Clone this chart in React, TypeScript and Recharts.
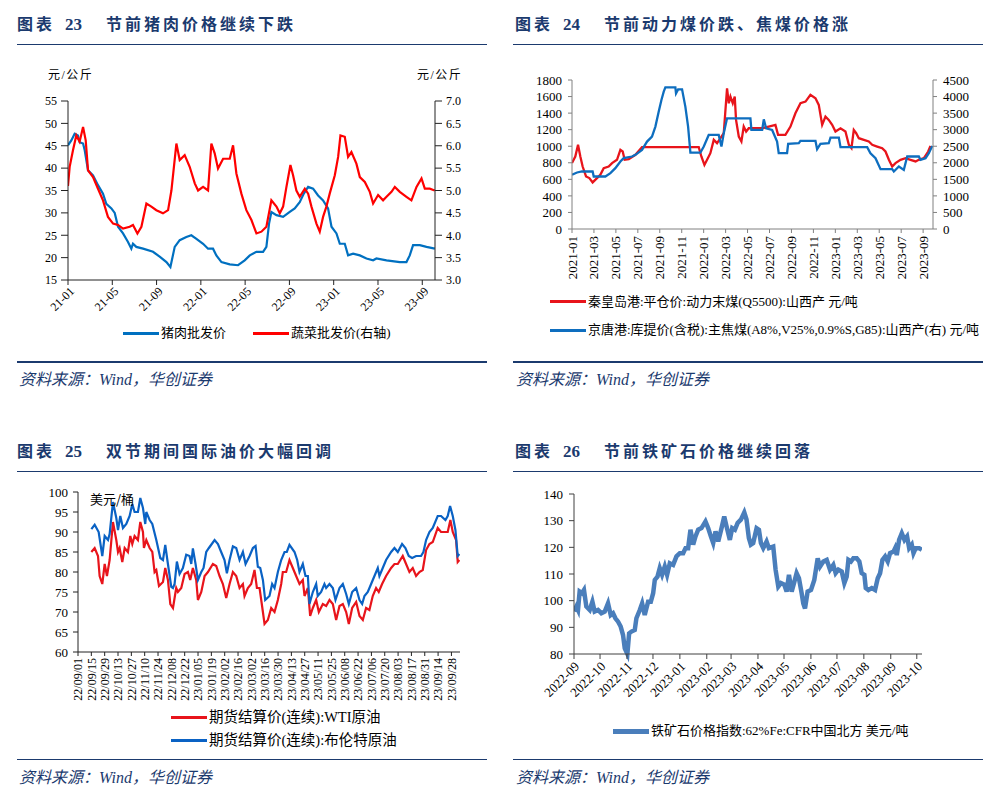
import React from 'react';
import { LineChart, Line, XAxis, YAxis } from 'recharts';

const SERIF = "'Liberation Serif', 'Times New Roman', 'Noto Sans CJK SC', serif";
const CJK = "'Liberation Serif', 'Noto Sans CJK SC', serif";
const SANS = "'Noto Sans CJK SC', 'Noto Sans', sans-serif";
const NAVY = '#1B3A6E';

// ---------- 图表23 ----------
const porkTickMonths = [0, 4, 8, 12, 16, 20, 24, 28, 32];
const porkTickLabels = ['21-01', '21-05', '21-09', '22-01', '22-05', '22-09', '23-01', '23-05', '23-09'];
const porkLeftTicks = [15, 20, 25, 30, 35, 40, 45, 50, 55];
const vegRightTicks = [3, 3.5, 4, 4.5, 5, 5.5, 6, 6.5, 7];
// [months since 2021-01, 元/公斤]
const porkPrice: [number, number][] = [
  [0, 45.1], [0.3, 46.2], [0.6, 47.7], [0.9, 47.3], [1.05, 45.8], [1.36, 45.5], [1.51, 44], [1.81, 39.5],
  [2.26, 38.4], [2.71, 36.2], [3.16, 34.3], [3.46, 32], [3.92, 31], [4.22, 30], [4.52, 26.9], [4.97, 25.4],
  [5.42, 23.5], [5.72, 22], [5.87, 23.1], [6.17, 22.4], [6.78, 22], [7.68, 21.3], [8.28, 20.2], [8.89, 19],
  [9.25, 17.9], [9.64, 22.4], [10.09, 23.9], [10.69, 24.6], [11.14, 25], [11.6, 24.2], [12.2, 23.1], [12.65, 22],
  [13.1, 22], [13.4, 20.5], [13.86, 19], [14.61, 18.5], [15.36, 18.3], [15.96, 19.4], [16.42, 20.5], [17.02, 21.3],
  [17.62, 21.3], [17.92, 22.4], [18.16, 27.6], [18.37, 30.2], [18.83, 29.5], [19.43, 29.1], [20.03, 30.2], [20.48, 31],
  [20.93, 32.4], [21.3, 34.3], [21.69, 35.8], [22.14, 35.4], [22.59, 33.9], [23.04, 32.8], [23.49, 31], [23.8, 26.9],
  [24.25, 25.4], [24.55, 23.1], [25, 23.1], [25.3, 20.5], [25.75, 20.9], [26.36, 20.5], [26.96, 19.8], [27.56, 19.4],
  [27.86, 19.8], [28.77, 19.4], [29.97, 19], [30.57, 19], [30.87, 20.5], [31.17, 22.8], [31.78, 22.8], [32.38, 22.4],
  [33.13, 22],
];
const vegPrice: [number, number][] = [
  [0, 5.1], [0.15, 5.53], [0.45, 5.9], [0.75, 6.23], [1.05, 6.09], [1.36, 6.42], [1.6, 6.12], [1.81, 5.45],
  [2.26, 5.3], [2.71, 5.04], [3.16, 4.78], [3.61, 4.41], [4.07, 4.26], [4.52, 4.23], [4.97, 4.15], [5.57, 4.19],
  [5.87, 4.23], [6.27, 4.04], [6.63, 4.19], [7.08, 4.71], [7.53, 4.64], [7.98, 4.56], [8.58, 4.49], [9.04, 4.56],
  [9.34, 5.0], [9.79, 6.05], [10.09, 5.68], [10.54, 5.79], [10.99, 5.53], [11.45, 5.16], [11.75, 5.0], [12.2, 5.08],
  [12.65, 5.0], [12.95, 6.05], [13.25, 5.83], [13.55, 5.49], [14.01, 5.71], [14.61, 5.71], [14.91, 6.01], [15.21, 5.38],
  [15.66, 4.93], [16.11, 4.56], [16.57, 4.34], [17.02, 4.04], [17.47, 4.08], [17.92, 4.19], [18.37, 4.78], [18.83, 4.64],
  [19.13, 4.49], [19.43, 4.64], [19.73, 5.08], [20.09, 5.57], [20.33, 5.34], [20.63, 5.0], [20.93, 4.86], [21.39, 5.04],
  [21.69, 4.93], [21.99, 4.64], [22.44, 4.26], [22.74, 4.08], [23.04, 4.41], [23.34, 4.64], [23.64, 4.93], [24.1, 5.34],
  [24.4, 5.75], [24.61, 6.23], [25.0, 6.2], [25.3, 5.75], [25.6, 5.86], [26.05, 5.6], [26.36, 5.3], [26.81, 5.19],
  [27.26, 4.97], [27.56, 4.71], [28.01, 4.9], [28.46, 4.78], [28.77, 4.86], [29.22, 4.97], [29.52, 5.08], [29.97, 4.97],
  [30.57, 4.86], [31.02, 4.78], [31.48, 5.08], [31.93, 5.27], [32.23, 5.04], [32.68, 5.04], [33.13, 5.0],
];

// ---------- 图表24 ----------
const coalTickMonths = [0, 2, 4, 6, 8, 10, 12, 14, 16, 18, 20, 22, 24, 26, 28, 30, 32];
const coalTickLabels = ['2021-01', '2021-03', '2021-05', '2021-07', '2021-09', '2021-11', '2022-01', '2022-03', '2022-05',
  '2022-07', '2022-09', '2022-11', '2023-01', '2023-03', '2023-05', '2023-07', '2023-09'];
const coalLeftTicks = [0, 200, 400, 600, 800, 1000, 1200, 1400, 1600, 1800];
const coalRightTicks = [0, 500, 1000, 1500, 2000, 2500, 3000, 3500, 4000, 4500];
// [months since 2021-01, 元/吨]
const thermalCoal: [number, number][] = [
  [0, 796], [0.3, 876], [0.55, 1017], [0.76, 876], [0.97, 755], [1.28, 635], [1.58, 615], [1.88, 563],
  [2.28, 615], [2.58, 655], [2.89, 735], [3.34, 755], [3.65, 796], [4.1, 836], [4.41, 956], [4.62, 936],
  [4.8, 836], [5.17, 844], [5.78, 896], [6.38, 988], [11.55, 988], [11.79, 876], [12.07, 775], [12.31, 836],
  [12.61, 916], [12.92, 1077], [13.22, 1037], [13.53, 1097], [13.83, 1157], [14.13, 1700], [14.29, 1519], [14.44, 1600],
  [14.65, 1519], [14.83, 1600], [14.95, 1318], [15.2, 1117], [15.44, 1057], [15.65, 1237], [15.87, 1177], [16.11, 1217],
  [17.33, 1217], [17.93, 1237], [18.54, 1258], [18.78, 1137], [19.45, 1137], [19.91, 1237], [20.36, 1398], [20.82, 1519],
  [21.28, 1539], [21.73, 1620], [22.19, 1579], [22.49, 1499], [22.8, 1258], [23.1, 1358], [23.4, 1318], [23.71, 1258],
  [24.01, 1177], [24.47, 1217], [24.92, 1177], [25.23, 1017], [25.47, 976], [25.68, 1197], [25.9, 1157], [26.14, 1097],
  [26.6, 1077], [27.05, 1057], [27.36, 1017], [27.81, 996], [28.27, 976], [28.57, 936], [28.88, 836], [29.18, 755],
  [29.48, 796], [29.94, 836], [30.4, 856], [30.85, 836], [31.31, 816], [31.61, 836], [32.07, 856], [32.46, 936],
  [32.67, 1005],
];
const cokingCoal: [number, number][] = [
  [0, 1637], [0.46, 1707], [0.91, 1737], [1.88, 1737], [1.98, 1586], [3.04, 1586], [3.5, 1687], [3.95, 1837],
  [4.41, 2038], [4.71, 2139], [5.47, 2189], [5.78, 2239], [6.38, 2390], [6.84, 2640], [7.29, 2791], [7.6, 3092],
  [7.9, 3544], [8.15, 3896], [8.36, 4147], [8.51, 4277], [9.42, 4277], [9.48, 4096], [9.67, 4217], [10.03, 4217],
  [10.33, 3695], [10.58, 3092], [10.79, 2309], [11.7, 2309], [12.01, 2490], [12.46, 2841], [13.37, 2841], [13.62, 2490],
  [13.83, 2891], [14.13, 3343], [16.26, 3343], [16.35, 2992], [17.33, 2992], [17.48, 3313], [17.69, 3042], [18.24, 2992],
  [18.69, 2640], [18.84, 2289], [19.6, 2289], [19.7, 2570], [20.67, 2590], [20.82, 2660], [22.19, 2660], [22.34, 2409],
  [22.64, 2570], [23.4, 2590], [23.56, 2760], [24.32, 2760], [24.47, 2470], [26.9, 2470], [27.2, 2289], [27.66, 2139],
  [28.12, 1807], [29.18, 1807], [29.33, 1737], [29.79, 1888], [30.24, 1787], [30.55, 2189], [31.61, 2189], [31.76, 2088],
  [32.22, 2139], [32.52, 2289], [32.83, 2510],
];

// ---------- 图表25 ----------
const oilTickDays = Array.from({ length: 29 }, (_, i) => i * 14);
const oilTickLabels = ['22/09/01', '22/09/15', '22/09/29', '22/10/13', '22/10/27', '22/11/10', '22/11/24', '22/12/08',
  '22/12/22', '23/01/05', '23/01/19', '23/02/02', '23/02/16', '23/03/02', '23/03/16', '23/03/30', '23/04/13', '23/04/27',
  '23/05/11', '23/05/25', '23/06/08', '23/06/22', '23/07/06', '23/07/20', '23/08/03', '23/08/17', '23/08/31', '23/09/14',
  '23/09/28'];
const oilTicks = [60, 65, 70, 75, 80, 85, 90, 95, 100];
// [days since 2022-09-01, 美元/桶]
const brent: [number, number][] = [
  [14, 90.7], [17.5, 91.8], [21.7, 90], [25.5, 84], [28, 89], [31.5, 88], [33.2, 89.5], [36.7, 97.5],
  [40.2, 93.5], [42, 90.5], [44.4, 94], [47.2, 91], [50.7, 92], [54.2, 94], [57, 97], [59.4, 95],
  [62.9, 95], [65.4, 98.5], [68.2, 96], [70.6, 92], [71.7, 95], [75.2, 93], [78, 92], [82.2, 88],
  [86.4, 83.5], [89.2, 83], [91.6, 86.8], [94.4, 82], [97.9, 76.3], [99.7, 76], [101.4, 77], [103.8, 82.6],
  [106.6, 79.5], [110.1, 81], [113.6, 84.3], [117.1, 84], [118.9, 82], [120.6, 85.9], [123.4, 82], [125.9, 78],
  [129.4, 80], [131.8, 81], [134.6, 85], [137.4, 86], [143.4, 88], [146.9, 87], [150.3, 85], [153.8, 83],
  [156.3, 79.7], [159.1, 83], [162.6, 86.4], [166.1, 86], [169.6, 83], [173.1, 85], [175.9, 82], [180.1, 84],
  [183.6, 86], [186.4, 86.5], [188.8, 81.3], [191.3, 81], [194.1, 78], [196.5, 73], [201, 74], [203.8, 77],
  [206.3, 76], [209.8, 80], [213.3, 83], [216.8, 85], [219.2, 85], [222, 86.8], [227.3, 85], [230.1, 83],
  [232.5, 80], [236, 82], [238.8, 79], [241.3, 79], [243, 72], [246.5, 75], [250, 77], [251.7, 74],
  [255.2, 75], [258.7, 77], [260.5, 76], [264, 77], [267.5, 76], [270.3, 73], [274.5, 76], [278, 77],
  [281.5, 74.5], [284.3, 72], [287.8, 75], [292, 76], [295.5, 73], [298.3, 72], [300.7, 74], [304.2, 75],
  [307.7, 77], [311.2, 79], [314.7, 81], [316.4, 79], [319.9, 81], [323.4, 83], [328.7, 85], [332.2, 86],
  [335.7, 85], [340.2, 87], [343.7, 86], [347.2, 84], [350.7, 83.5], [354.9, 84], [360.1, 84], [362.6, 85],
  [365.4, 88], [368.9, 90], [372.4, 91], [377.6, 94], [381.1, 94], [385.7, 93], [388.1, 94], [390.6, 96.5],
  [393.4, 94], [396.2, 90.5], [398.6, 84], [400.3, 84.5],
];
const wti: [number, number][] = [
  [14, 85], [17.5, 86], [21, 84], [22.7, 79], [25.5, 77], [28, 82], [30.4, 79], [33.2, 83],
  [36.7, 92.5], [40.2, 88], [42, 85], [43.7, 86], [46.5, 82.5], [49, 86], [52.4, 85], [54.9, 89],
  [57, 87], [59.4, 89], [62.9, 88], [65.4, 92.5], [68.2, 90], [69.2, 86], [71.7, 88], [75.2, 86],
  [78, 85], [80.4, 80], [82.2, 80.5], [85, 76.5], [89.2, 77.5], [91.6, 81], [94.4, 78], [96.9, 72],
  [99.7, 71], [103.1, 76], [104.9, 75], [108.4, 76], [111.9, 79.5], [115.4, 80], [117.8, 78], [120.6, 81],
  [124.1, 78], [125.9, 73], [129.4, 75], [132.9, 79], [136.4, 80], [141.6, 82], [145.1, 81.5], [148.6, 79],
  [152.1, 77], [155.6, 73.5], [159.1, 77], [162.6, 80], [166.1, 79], [169.6, 76], [173.1, 77], [174.8, 74],
  [178.3, 76], [181.8, 77], [185.3, 80.5], [187.8, 76], [190.6, 76], [194.1, 70], [195.8, 67], [199.3, 68],
  [202.8, 71], [206.3, 70], [209.8, 73], [213.3, 77], [215, 80], [218.5, 80], [222, 83], [225.5, 81],
  [229, 79], [232.5, 77], [236, 78], [237.8, 74], [241.3, 76], [243.7, 69], [246.5, 71], [250, 73],
  [252.8, 70], [257, 72], [260.5, 71.5], [264, 73], [267.5, 72], [271, 68], [274.5, 71.5], [278, 72],
  [281.5, 70], [284.3, 67], [287.8, 71], [292, 72.5], [295.5, 69], [299, 68], [302.4, 71], [305.9, 70.5],
  [309.4, 74], [312.9, 76], [315.7, 75], [319.2, 77], [323.4, 79], [328.7, 81], [332.2, 82], [335.7, 82],
  [340.9, 84], [344.4, 82], [347.9, 80], [351.4, 81], [354.9, 79], [358.4, 80], [361.9, 80.5], [365.4, 85.5],
  [368.9, 87], [372.4, 87.5], [377.6, 91], [381.1, 90], [384.6, 90], [388.1, 90], [390.9, 93], [393.4, 90],
  [396.9, 88], [398.6, 82.5], [400.3, 83],
];

// ---------- 图表26 ----------
const oreTickDays = [0, 30, 61, 91, 122, 153, 181, 212, 242, 273, 303, 334, 365, 395];
const oreTickLabels = ['2022-09', '2022-10', '2022-11', '2022-12', '2023-01', '2023-02', '2023-03', '2023-04',
  '2023-05', '2023-06', '2023-07', '2023-08', '2023-09', '2023-10'];
const oreTicks = [80, 90, 100, 110, 120, 130, 140];
// [days since 2022-09-01, 美元/吨]
const ironOre: [number, number][] = [
  [0, 96], [2.7, 97.8], [4.6, 96.5], [6.5, 103.4], [9.2, 102.8], [11.5, 104], [14.2, 97.8], [18.1, 96.5],
  [21.2, 99.6], [23.8, 95.9], [27.7, 96.5], [31.5, 95.3], [35.4, 95.9], [39.2, 99], [42.3, 94.6], [45, 95.3],
  [47.7, 93.4], [50.8, 92.1], [53.8, 90.3], [56.5, 87.1], [58.5, 82.1], [61.5, 80], [63.5, 87.7], [66.2, 88.4],
  [70, 89], [71.9, 93.4], [75.8, 96.5], [78.5, 99], [81.5, 94.6], [85.4, 99.6], [88.5, 99.6], [91.2, 102.8],
  [93.1, 107.8], [96.2, 109], [98.8, 112.2], [101.5, 109.7], [104.6, 112.8], [107.3, 109.7], [110.4, 114], [114.2, 113.4],
  [118.1, 116.6], [121.9, 117.8], [125.8, 117.8], [128.5, 119.7], [131.5, 119.7], [134.2, 126.6], [137.3, 121], [140, 124.1],
  [143.1, 126.6], [146.9, 127.2], [151.5, 129.7], [154.6, 127.2], [157.7, 124.1], [160.4, 121.6], [163.1, 126], [166.2, 122.2],
  [170, 127.2], [173.1, 131.6], [175.8, 127.8], [179.6, 122.8], [182.3, 127.2], [185.4, 126.6], [188.5, 129.1], [192.3, 130.4],
  [196.2, 133.1], [198.8, 130.4], [201.5, 123.5], [203.8, 121], [206.5, 121.6], [210.4, 127.2], [213.1, 126.6], [215.4, 121.6],
  [218.1, 119.7], [221.9, 122.2], [224.6, 119.7], [229.6, 120.3], [232.3, 111.6], [235.4, 105.3], [238.5, 106.6], [242.3, 106],
  [245, 103.4], [247.7, 109.7], [250.8, 103.4], [253.5, 106.6], [256.5, 110.3], [259.2, 108.4], [262.3, 102.8], [264.2, 99],
  [266.2, 97.1], [269.2, 103.4], [273.1, 104], [276.9, 107.8], [280.8, 115.9], [283.5, 112.8], [287.3, 114.7], [291.2, 115.3],
  [295, 111.6], [298.8, 113.4], [301.5, 110.3], [304.6, 111.6], [308.5, 110.9], [311.5, 106.6], [314.2, 109], [316.2, 115.3],
  [319.2, 114.7], [321.9, 115.9], [325.8, 115.9], [328.8, 114.7], [331.5, 110.3], [334.6, 109.7], [336.2, 104.7], [339.2, 104],
  [343.1, 104.7], [346.9, 104], [350, 108.4], [352.7, 110.3], [355.4, 115.3], [358.5, 116.6], [361.5, 114.7], [364.2, 117.8],
  [368.1, 118.4], [370, 119.7], [371.9, 117.1], [374.6, 122.8], [377.7, 125.3], [380.8, 122.8], [383.8, 124.1], [386.2, 119.7],
  [389.2, 121], [391.2, 117.8], [393.8, 119.7], [397.7, 119.7], [400.8, 119.1],
];

const pts = (arr: [number, number][]) => arr.map(([x, y]) => ({ x, y }));

function AngledTick(props: any) {
  const { x, y, payload, angle, ticks, labels, fontSize, ox = 0, oy = 0 } = props;
  const i = ticks.indexOf(payload.value);
  const label = i >= 0 ? labels[i] : String(payload.value);
  const ax = x + ox;
  const ay = y + oy;
  return (
    <text x={ax} y={ay} dy="0.35em" textAnchor="end" transform={`rotate(${angle}, ${ax}, ${ay})`}
      fontSize={fontSize} fontFamily={SERIF} fill="#000">{label}</text>
  );
}

function Title({ left, top, num, text }: { left: number; top: number; num: string; text: string }) {
  const base: React.CSSProperties = { position: 'absolute', top: 0, whiteSpace: 'nowrap' };
  return (
    <div style={{ position: 'absolute', left, top, height: 22, lineHeight: '22px', color: NAVY, fontWeight: 700,
      fontSize: 16, fontFamily: CJK, width: 400 }}>
      <span style={{ ...base, left: 0, letterSpacing: 3 }}>图表</span>
      <span style={{ ...base, left: 48, fontSize: 17 }}>{num}</span>
      <span style={{ ...base, left: 89, letterSpacing: 3 }}>{text}</span>
    </div>
  );
}

function Rule({ left, top, width }: { left: number; top: number; width: number }) {
  return <div style={{ position: 'absolute', left, top, width, height: 1.5, background: NAVY }} />;
}

function Source({ left, top }: { left: number; top: number }) {
  return (
    <div style={{ position: 'absolute', left, top, height: 20, lineHeight: '20px', fontStyle: 'italic', fontSize: 16,
      color: NAVY, fontFamily: CJK, whiteSpace: 'nowrap' }}>资料来源：Wind，华创证券</div>
  );
}

function LegendItem({ left, top, color, label, fontSize = 13, thickness = 3, len = 36, font = CJK }:
  { left: number; top: number; color: string; label: string; fontSize?: number; thickness?: number; len?: number; font?: string }) {
  return (
    <>
      <div style={{ position: 'absolute', left, top: top - thickness / 2, width: len, height: thickness, background: color }} />
      <div style={{ position: 'absolute', left: left + len + 2, top: top - 10, height: 20, lineHeight: '20px', fontSize,
        fontFamily: font, color: '#000', whiteSpace: 'nowrap' }}>{label}</div>
    </>
  );
}

function TextAt({ left, top, children, fontSize = 12, font = CJK, spacing = 0 }: any) {
  return (
    <div style={{ position: 'absolute', left, top: top - 10, height: 20, lineHeight: '20px', fontSize, fontFamily: font,
      color: '#000', whiteSpace: 'nowrap', letterSpacing: spacing }}>{children}</div>
  );
}

const numTick = (fs: number) => ({ fontSize: fs, fill: '#000', fontFamily: SERIF });

export default function App() {
  return (
    <div style={{ position: 'absolute', left: 0, top: 0, width: 991, height: 800, background: '#fff', overflow: 'hidden' }}>
      {/* Panel 23 */}
      <Title left={17} top={14} num="23" text="节前猪肉价格继续下跌" />
      <Rule left={17} top={43.5} width={470} />
      <TextAt left={48} top={75} spacing={1.5}>元/公斤</TextAt>
      <TextAt left={417} top={75} spacing={1.5}>元/公斤</TextAt>
      <div style={{ position: 'absolute', left: 0, top: 60 }}>
        <LineChart width={495} height={300} margin={{ top: 41, right: 20, bottom: 30, left: 28 }}>
          <XAxis type="number" dataKey="x" domain={[0, 33.15]} ticks={porkTickMonths} interval={0} height={50}
            allowDataOverflow tickSize={5} tickMargin={2} axisLine={{ stroke: '#222' }} tickLine={{ stroke: '#222' }}
            tick={(p: any) => <AngledTick {...p} angle={-45} ticks={porkTickMonths} labels={porkTickLabels} fontSize={12} ox={4} oy={2} />} />
          <YAxis yAxisId="l" domain={[15, 55]} ticks={porkLeftTicks} interval={0} width={40} tickSize={7} tickMargin={4}
            axisLine={{ stroke: '#222' }} tickLine={{ stroke: '#222' }} tick={numTick(12)} />
          <YAxis yAxisId="r" orientation="right" domain={[3, 7]} ticks={vegRightTicks} interval={0} width={40} tickSize={7}
            tickMargin={4} axisLine={{ stroke: '#222' }} tickLine={{ stroke: '#222' }} tick={numTick(12)}
            tickFormatter={(v: number) => v.toFixed(1)} />
          <Line yAxisId="l" data={pts(porkPrice)} dataKey="y" type="linear" stroke="#0070C0" strokeWidth={2.2} dot={false} isAnimationActive={false} />
          <Line yAxisId="r" data={pts(vegPrice)} dataKey="y" type="linear" stroke="#FF0000" strokeWidth={2.2} dot={false} isAnimationActive={false} />
        </LineChart>
      </div>
      <LegendItem left={123} top={333} color="#0070C0" label="猪肉批发价" />
      <LegendItem left={253} top={333} color="#FF0000" label="蔬菜批发价(右轴)" />
      <Rule left={17} top={361} width={470} />
      <Source left={19} top={370} />

      {/* Panel 24 */}
      <Title left={515} top={14} num="24" text="节前动力煤价跌、焦煤价格涨" />
      <Rule left={513} top={43.5} width={470} />
      <div style={{ position: 'absolute', left: 495, top: 60 }}>
        <LineChart width={496} height={300} margin={{ top: 20, right: 10, bottom: 71, left: 36 }}>
          <XAxis type="number" dataKey="x" domain={[0, 32.9]} ticks={coalTickMonths} interval={0} height={60}
            allowDataOverflow tickSize={4} tickMargin={3} axisLine={{ stroke: '#808080' }} tickLine={{ stroke: '#808080' }}
            tick={(p: any) => <AngledTick {...p} angle={-90} ticks={coalTickMonths} labels={coalTickLabels} fontSize={13} />} />
          <YAxis yAxisId="l" domain={[0, 1800]} ticks={coalLeftTicks} interval={0} width={41} tickSize={4} tickMargin={6}
            axisLine={{ stroke: '#808080' }} tickLine={{ stroke: '#808080' }} tick={numTick(13)} />
          <YAxis yAxisId="r" orientation="right" domain={[0, 4500]} ticks={coalRightTicks} interval={0} width={48}
            tickSize={4} tickMargin={6} axisLine={{ stroke: '#808080' }} tickLine={{ stroke: '#808080' }} tick={numTick(13)} />
          <Line yAxisId="l" data={pts(thermalCoal)} dataKey="y" type="linear" stroke="#E8141B" strokeWidth={2.3} dot={false} isAnimationActive={false} />
          <Line yAxisId="r" data={pts(cokingCoal)} dataKey="y" type="linear" stroke="#0E6EBF" strokeWidth={2.3} dot={false} isAnimationActive={false} />
        </LineChart>
      </div>
      <LegendItem left={550} top={301.7} color="#E8141B" label="秦皇岛港:平仓价:动力末煤(Q5500):山西产 元/吨" />
      <LegendItem left={550} top={330} color="#0E6EBF" label="京唐港:库提价(含税):主焦煤(A8%,V25%,0.9%S,G85):山西产(右) 元/吨" />
      <Rule left={513} top={361} width={470} />
      <Source left={516} top={370} />

      {/* Panel 25 */}
      <Title left={17} top={441} num="25" text="双节期间国际油价大幅回调" />
      <Rule left={17} top={470.5} width={470} />
      <div style={{ position: 'absolute', left: 0, top: 470 }}>
        <LineChart width={495} height={300} margin={{ top: 22, right: 35, bottom: 58, left: 38 }}>
          <XAxis type="number" dataKey="x" domain={[0, 401]} ticks={oilTickDays} interval={0} height={60}
            allowDataOverflow tickSize={4} tickMargin={2} axisLine={{ stroke: '#222' }} tickLine={{ stroke: '#222' }}
            tick={(p: any) => <AngledTick {...p} angle={-90} ticks={oilTickDays} labels={oilTickLabels} fontSize={12} />} />
          <YAxis domain={[60, 100]} ticks={oilTicks} interval={0} width={40} tickSize={5} tickMargin={5}
            axisLine={{ stroke: '#222' }} tickLine={{ stroke: '#222' }} tick={numTick(13)} />
          <Line data={pts(wti)} dataKey="y" type="linear" stroke="#E8141B" strokeWidth={2.2} dot={false} isAnimationActive={false} />
          <Line data={pts(brent)} dataKey="y" type="linear" stroke="#0A62C4" strokeWidth={2.2} dot={false} isAnimationActive={false} />
        </LineChart>
      </div>
      <TextAt left={90} top={499} font={SANS} fontSize={13}>美元/桶</TextAt>
      <LegendItem left={171} top={717.3} color="#E8141B" label="期货结算价(连续):WTI原油" fontSize={14.5} />
      <LegendItem left={171} top={740} color="#0A62C4" label="期货结算价(连续):布伦特原油" fontSize={14.5} />
      <Rule left={17} top={758.5} width={470} />
      <Source left={19} top={768} />

      {/* Panel 26 */}
      <Title left={515} top={441} num="26" text="节前铁矿石价格继续回落" />
      <Rule left={513} top={470.5} width={470} />
      <div style={{ position: 'absolute', left: 495, top: 470 }}>
        <LineChart width={496} height={300} margin={{ top: 24, right: 69, bottom: 56, left: 39 }}>
          <XAxis type="number" dataKey="x" domain={[0, 401]} ticks={oreTickDays} interval={0} height={60}
            allowDataOverflow tickSize={5} tickMargin={2} axisLine={{ stroke: '#404040' }} tickLine={{ stroke: '#404040' }}
            tick={(p: any) => <AngledTick {...p} angle={-45} ticks={oreTickDays} labels={oreTickLabels} fontSize={13} ox={3} oy={3} />} />
          <YAxis domain={[80, 140]} ticks={oreTicks} interval={0} width={40} tickSize={5} tickMargin={6}
            axisLine={{ stroke: '#404040' }} tickLine={{ stroke: '#404040' }} tick={numTick(13)} />
          <Line data={pts(ironOre)} dataKey="y" type="linear" stroke="#4A7EBB" strokeWidth={4.5} dot={false} isAnimationActive={false} />
        </LineChart>
      </div>
      <LegendItem left={613} top={731} color="#4A7EBB" label="铁矿石价格指数:62%Fe:CFR中国北方 美元/吨" thickness={5} />
      <Rule left={513} top={758.5} width={470} />
      <Source left={516} top={768} />
    </div>
  );
}
